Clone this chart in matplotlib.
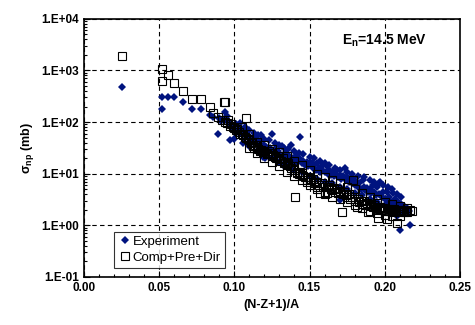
import numpy as np
import matplotlib
matplotlib.use("Agg")
import matplotlib.pyplot as plt
from matplotlib.ticker import FuncFormatter, LogLocator, MultipleLocator

plt.rcParams["font.family"] = ["Liberation Sans", "DejaVu Sans"]

# experiment (diamonds)
exp_x = [
    0.025, 0.052, 0.052, 0.056, 0.060, 0.0655, 0.072, 0.078, 0.0835, 0.086,
    0.089, 0.094, 0.097, 0.100, 0.090, 0.091, 0.093, 0.095, 0.096, 0.097,
    0.098, 0.099, 0.100, 0.101, 0.102, 0.103, 0.104, 0.105, 0.106, 0.107,
    0.108, 0.109, 0.110, 0.111, 0.112, 0.113, 0.114, 0.115, 0.116, 0.117,
    0.118, 0.119, 0.119, 0.120, 0.1205, 0.121, 0.122, 0.123, 0.124, 0.125,
    0.126, 0.127, 0.128, 0.129, 0.130, 0.1316, 0.1326, 0.133, 0.134, 0.135,
    0.136, 0.137, 0.138, 0.139, 0.140, 0.141, 0.142, 0.1437, 0.144, 0.145,
    0.146, 0.147, 0.148, 0.149, 0.150, 0.1515, 0.152, 0.153, 0.154, 0.155,
    0.156, 0.157, 0.158, 0.159, 0.160, 0.1615, 0.162, 0.163, 0.164, 0.165,
    0.166, 0.167, 0.168, 0.169, 0.170, 0.170, 0.171, 0.172, 0.1736, 0.174,
    0.175, 0.176, 0.177, 0.178, 0.179, 0.180, 0.181, 0.182, 0.183, 0.184,
    0.1857, 0.186, 0.187, 0.188, 0.189, 0.190, 0.191, 0.1925, 0.193, 0.194,
    0.195, 0.196, 0.197, 0.198, 0.199, 0.200, 0.2013, 0.202, 0.203, 0.204,
    0.2057, 0.206, 0.207, 0.208, 0.208, 0.209, 0.210, 0.210, 0.211, 0.212,
    0.213, 0.214, 0.215, 0.2168, 0.216,
    # upper edge of the band
    0.104, 0.107, 0.110, 0.113, 0.116, 0.120, 0.123, 0.127, 0.130, 0.133,
    0.136, 0.140, 0.143, 0.146, 0.150, 0.153, 0.157, 0.160, 0.163, 0.167,
    0.170, 0.175, 0.178, 0.182, 0.186, 0.190, 0.193, 0.196, 0.199, 0.202,
    0.205, 0.208, 0.211,
    # lower edge of the band
    0.106, 0.110, 0.115, 0.120, 0.125, 0.130, 0.135, 0.140, 0.145, 0.150,
    0.155, 0.160, 0.165, 0.170, 0.175, 0.180, 0.185, 0.190, 0.195, 0.200,
    0.205, 0.210, 0.213,
]
exp_y = [
    470, 310, 180, 300, 300, 245, 178, 180, 138, 128,
    59, 160, 45, 47, 120, 105, 110, 130, 100, 96,
    88, 80, 75, 90, 65, 70, 62, 68, 60, 55,
    58, 50, 52, 48, 45, 52, 42, 40, 44, 38,
    56, 21, 34, 36, 20, 33, 30, 29, 32, 59,
    27, 30, 26, 28, 24, 34, 15, 22, 25, 21,
    23, 19, 36, 20, 18, 22, 17, 52, 19, 16,
    18, 15, 17, 14, 16, 16, 13, 15, 12, 16,
    13, 11, 12, 15, 11, 14, 10, 12, 9.5, 11,
    9, 10, 12, 8.5, 9.5, 3.1, 8, 9, 12.7, 7.5,
    8.5, 7, 8, 6.5, 8.1, 6, 7, 5.5, 6.5, 5,
    7.6, 5.5, 4.8, 5.2, 4.5, 5, 4.2, 6, 4.5, 3.8,
    5.5, 4, 7, 3.5, 4.5, 3.2, 4.5, 3, 3.6, 2.8,
    4.2, 2.6, 3.2, 1.5, 2.5, 2.8, 0.81, 2.3, 2.6, 2.2,
    2.4, 2.0, 2.2, 1.0, 1.9,
    95, 80, 70, 62, 55, 48, 45, 40, 36, 32,
    30, 27, 25, 24, 21, 20, 18, 16, 15, 13,
    12, 11, 10, 9, 8.5, 7.5, 7, 6.5, 6, 5.5,
    5, 4, 3.5,
    40, 35, 28, 24, 20, 17, 14, 12, 11, 9,
    8, 7, 6.5, 5.5, 5, 4.2, 3.8, 3.2, 2.8, 2.5,
    2.2, 1.9, 1.7,
]

# Comp+Pre+Dir calculation (open squares)
calc_x = [
    0.025, 0.052, 0.052, 0.056, 0.060, 0.0655, 0.072, 0.078, 0.0835, 0.086,
    0.089, 0.094, 0.093, 0.092, 0.094, 0.095, 0.096, 0.097, 0.098, 0.099,
    0.100, 0.101, 0.102, 0.103, 0.104, 0.105, 0.106, 0.107, 0.108, 0.108,
    0.109, 0.110, 0.111, 0.112, 0.1126, 0.113, 0.114, 0.115, 0.116, 0.117,
    0.118, 0.119, 0.120, 0.1216, 0.122, 0.123, 0.124, 0.125, 0.126, 0.127,
    0.128, 0.129, 0.130, 0.131, 0.1326, 0.133, 0.134, 0.135, 0.136, 0.137,
    0.138, 0.139, 0.140, 0.1404, 0.1416, 0.142, 0.143, 0.144, 0.145, 0.146,
    0.147, 0.148, 0.148, 0.149, 0.150, 0.151, 0.152, 0.153, 0.154, 0.155,
    0.156, 0.157, 0.158, 0.159, 0.160, 0.1615, 0.162, 0.163, 0.164, 0.165,
    0.166, 0.167, 0.168, 0.169, 0.170, 0.1714, 0.172, 0.173, 0.174, 0.175,
    0.176, 0.177, 0.178, 0.179, 0.180, 0.1814, 0.182, 0.183, 0.184, 0.185,
    0.186, 0.187, 0.188, 0.189, 0.190, 0.191, 0.192, 0.193, 0.194, 0.1947,
    0.1957, 0.196, 0.197, 0.198, 0.199, 0.200, 0.2013, 0.202, 0.203, 0.204,
    0.205, 0.206, 0.207, 0.208, 0.209, 0.210, 0.211, 0.212, 0.213, 0.214,
    0.215, 0.2168, 0.218,
    # upper edge of the band
    0.105, 0.110, 0.115, 0.120, 0.125, 0.130, 0.135, 0.140, 0.145, 0.150,
    0.155, 0.160, 0.165, 0.170, 0.175, 0.180, 0.185, 0.190, 0.195, 0.200,
    0.205, 0.210, 0.215,
    # lower edge of the band
    0.110, 0.115, 0.120, 0.125, 0.130, 0.135, 0.140, 0.145, 0.150, 0.155,
    0.160, 0.165, 0.170, 0.175, 0.180, 0.185, 0.190, 0.195, 0.200, 0.205,
    0.210,
]
calc_y = [
    1940, 1050, 630, 810, 570, 400, 278, 280, 200, 152,
    128, 240, 250, 110, 100, 95, 110, 85, 90, 82,
    78, 70, 72, 65, 60, 60, 55, 52, 120, 50,
    46, 44, 40, 42, 34, 31, 36, 33, 30, 27,
    29, 26, 28, 25, 24, 27, 25, 22, 23, 21,
    20, 22, 19, 18, 20, 16, 17, 15, 16, 14,
    13, 14, 12, 3.6, 10.3, 11, 10, 11, 9.5, 9,
    8.5, 7.6, 7, 8.5, 8, 7.5, 8, 6.5, 7, 5.6,
    6, 4.2, 6.5, 5.5, 4.5, 4.2, 5.5, 6, 5, 4.8,
    5.2, 4.5, 5, 4.2, 4.6, 1.8, 4, 4.4, 3.8, 3.5,
    4, 3.3, 3.6, 7.6, 3, 2.3, 3.2, 2.8, 3, 2.6,
    2.9, 2.5, 2.7, 1.8, 2.4, 2.6, 2.3, 2.5, 2.2, 2.7,
    1.38, 2.1, 2.3, 2.0, 2.2, 1.9, 1.3, 2.1, 1.9, 2.0,
    1.8, 2.1, 1.9, 1.1, 2.0, 1.8, 2.0, 1.9, 1.8, 1.9,
    1.8, 2.0, 1.9,
    80, 58, 42, 36, 30, 26, 22, 18, 15, 12,
    10, 8.5, 7.5, 6.5, 5.5, 5, 4.2, 3.5, 3.2, 2.8,
    2.6, 2.4, 2.2,
    32, 25, 20, 17, 14, 11, 9, 7.5, 6, 5,
    4, 3.6, 3.2, 2.8, 2.5, 2.2, 1.9, 1.7, 1.6, 1.5,
    1.5,
]

fig = plt.figure(figsize=(4.75, 3.25), dpi=100)
ax = fig.add_axes([0.177, 0.148, 0.791, 0.794])

ax.plot(exp_x, exp_y, linestyle="none", marker="D", markersize=4.2,
        color="#00137f", markeredgewidth=0, label="Experiment")
ax.plot(calc_x, calc_y, linestyle="none", marker="s", markersize=6,
        markerfacecolor="none", markeredgecolor="black", markeredgewidth=0.8,
        label="Comp+Pre+Dir")

ax.set_yscale("log")
ax.set_xlim(0, 0.25)
ax.set_ylim(0.1, 1e4)
ax.xaxis.set_major_locator(MultipleLocator(0.05))
ax.xaxis.set_minor_locator(MultipleLocator(0.01))
ax.yaxis.set_major_locator(LogLocator(base=10, numticks=10))
ax.yaxis.set_minor_locator(LogLocator(base=10, subs=np.arange(2, 10), numticks=20))
ax.xaxis.set_major_formatter(FuncFormatter(lambda v, _: f"{v:.2f}"))
ax.yaxis.set_major_formatter(FuncFormatter(lambda v, _: "1.E%+03d" % round(np.log10(v))))
ax.tick_params(which="both", direction="in", labelsize=8.5, width=0.8)
ax.tick_params(which="major", length=4)
ax.tick_params(which="minor", length=2.5)
for lab in ax.get_xticklabels() + ax.get_yticklabels():
    lab.set_fontweight("bold")

ax.grid(True, which="major", color="black", linestyle=(0, (4, 3)), linewidth=0.8)
for s in ax.spines.values():
    s.set_linewidth(1.2)

ax.set_xlabel("(N-Z+1)/A", fontsize=9, fontweight="bold", labelpad=4)
ax.set_ylabel(r"σ$_{\mathregular{np}}$ (mb)", fontsize=9, fontweight="bold", labelpad=4)
ax.text(0.2, 10 ** 3.57, r"E$_{\mathregular{n}}$=14.5 MeV", fontsize=10,
        fontweight="bold", ha="center", va="center")

leg = ax.legend(loc="lower left", bbox_to_anchor=(0.08, 0.035), fontsize=9.5,
                frameon=True, fancybox=False, handletextpad=0.1,
                borderpad=0.3, labelspacing=0.3, handlelength=1.0,
                borderaxespad=0)
leg.get_frame().set_edgecolor("black")
leg.get_frame().set_linewidth(0.8)

fig.savefig("out.png", dpi=100)
